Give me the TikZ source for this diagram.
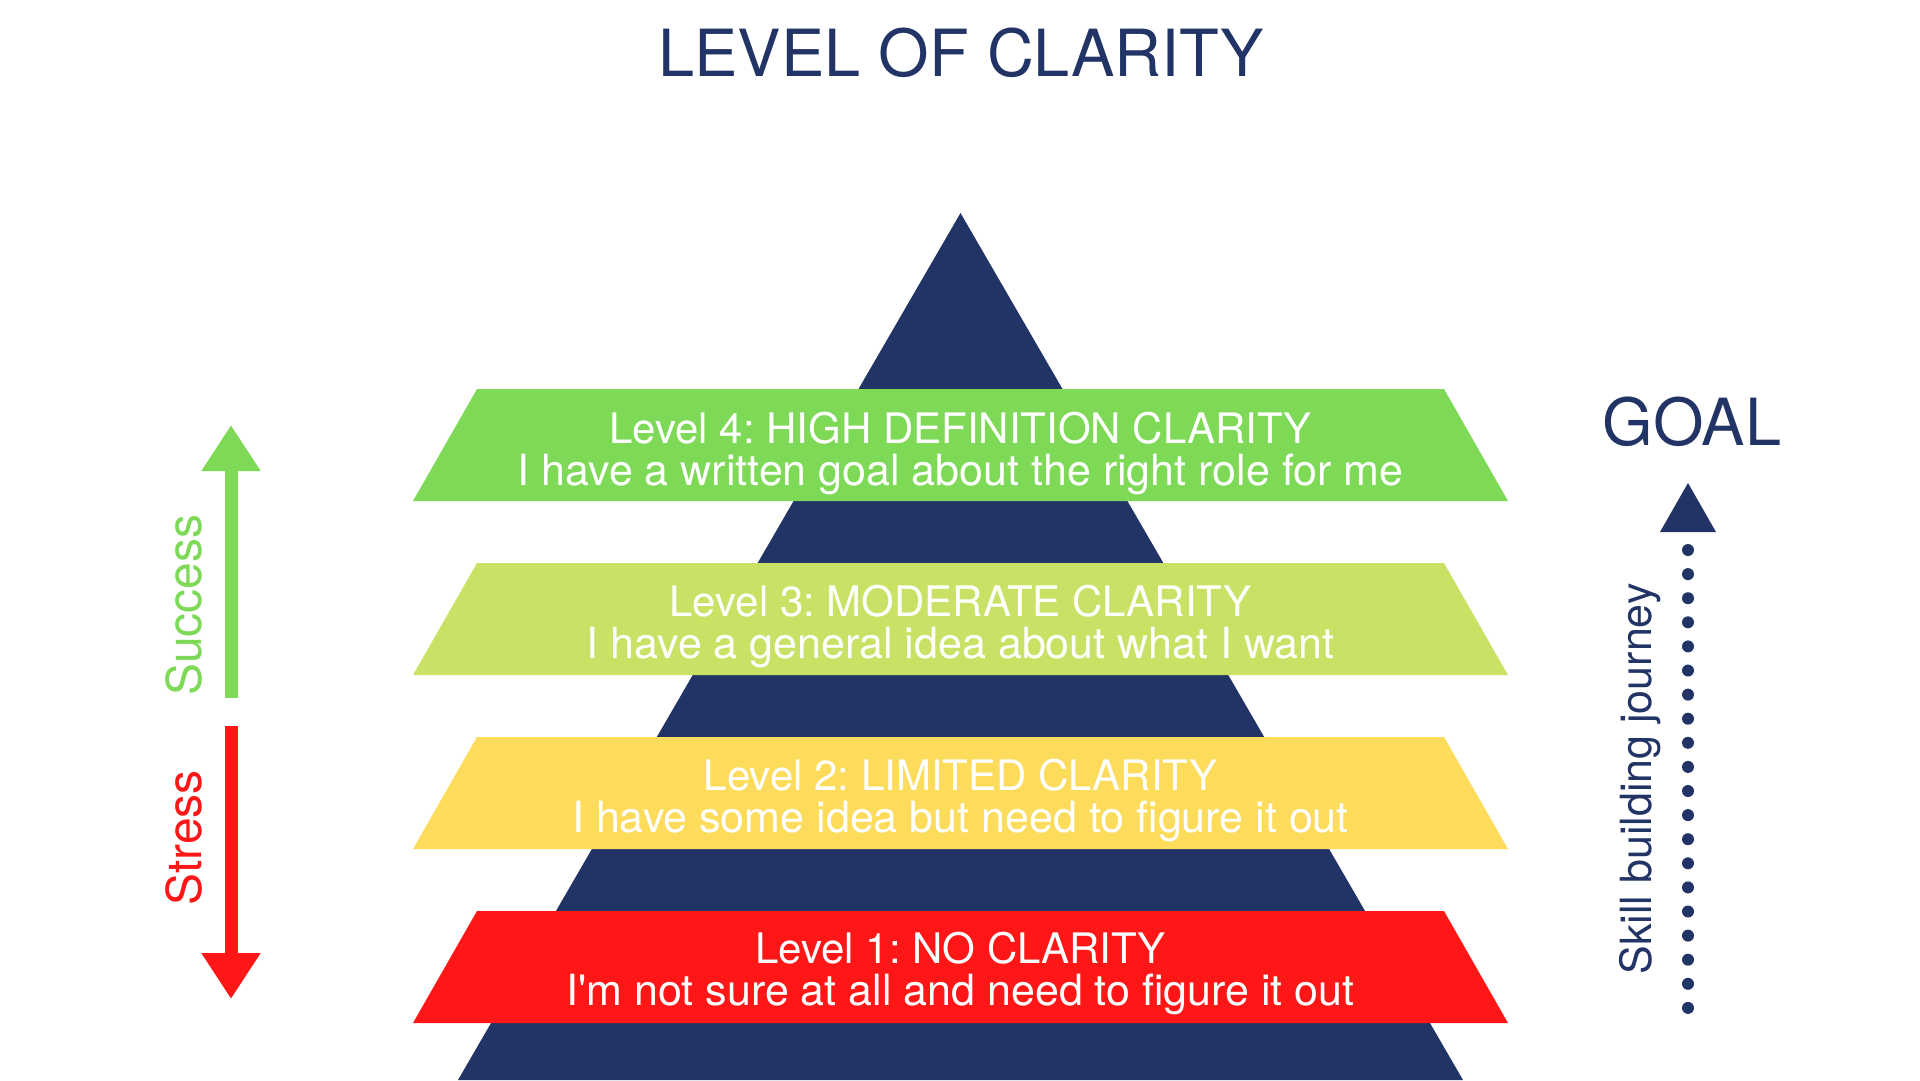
\documentclass[tikz,border=0pt]{standalone}
\usepackage{fontspec}
\setmainfont{TeX Gyre Heros}
\usetikzlibrary{arrows.meta}
\definecolor{navy}{RGB}{34,52,102}
\definecolor{lvgreen}{RGB}{126,217,87}
\definecolor{lvlime}{RGB}{201,226,101}
\definecolor{lvyellow}{RGB}{253,220,92}
\definecolor{lvred}{RGB}{255,22,22}
\tikzset{
  band/.style={fill=#1, draw=none},
  bandtext/.style={text=white, anchor=base, inner sep=0pt, font=\fontsize{43}{43}\selectfont\frenchspacing},
  bandhead/.style={bandtext, font=\fontsize{42}{42}\selectfont\frenchspacing},
  sidetext/.style={text=#1, rotate=90, inner sep=0pt, font=\fontsize{48}{48}\selectfont},
  bigtext/.style={text=navy, anchor=base, inner sep=0pt, font=\fontsize{65}{65}\selectfont},
  fatarrow/.style={draw=#1, line width=13pt, line cap=butt, -{Triangle[width=56pt,length=46pt,fill=#1]}},
}
\begin{document}
\begin{tikzpicture}[x=1pt,y=-1pt]
\useasboundingbox (0,0) rectangle (1920,1080);
\fill[white] (0,0) rectangle (1920,1080);
% title
\node[bigtext] (title) at (961,76) {LEVEL OF CLARITY};
% pyramid
\fill[navy] (960.5,213) -- (1463,1080) -- (458,1080) -- cycle;
% bands
\fill[band=lvgreen] (477,389) -- (1444,389) -- (1508,501) -- (413,501) -- cycle;
\node[bandhead] (l4a) at (960.5,443) {Level 4: HIGH DEFINITION CLARITY};
\node[bandtext] (l4b) at (960.5,485.5) {I have a written goal about the right role for me};
\fill[band=lvlime] (477,563) -- (1444,563) -- (1508,675) -- (413,675) -- cycle;
\node[bandhead] (l3a) at (960.5,616) {Level 3: MODERATE CLARITY};
\node[bandtext] (l3b) at (960.5,658.5) {I have a general idea about what I want};
\fill[band=lvyellow] (477,737) -- (1444,737) -- (1508,849) -- (413,849) -- cycle;
\node[bandhead] (l2a) at (960.5,790) {Level 2: LIMITED CLARITY};
\node[bandtext] (l2b) at (960.5,832.5) {I have some idea but need to figure it out};
\fill[band=lvred] (477,911) -- (1444,911) -- (1508,1023) -- (413,1023) -- cycle;
\node[bandhead] (l1a) at (960.5,963) {Level 1: NO CLARITY};
\node[bandtext] (l1b) at (960.5,1005) {I\textquotesingle m not sure at all and need to figure it out};
% left arrows
\coordinate (sBot) at (231,698);
\coordinate (sTop) at (231,425);
\coordinate (rTop) at (231,726);
\coordinate (rBot) at (231,999);
\draw[fatarrow=lvgreen] (sBot) -- (sTop);
\draw[fatarrow=lvred] (rTop) -- (rBot);
\node[sidetext=lvgreen] (success) at (184,605) {Success};
\node[sidetext=lvred] (stress) at (184,838) {Stress};
% right side
\node[bigtext] (goal) at (1692,445) {GOAL};
\fill[navy] (1660,532) -- (1716,532) -- (1688,483) -- cycle;
\foreach \i in {0,...,19} {
  \fill[navy] (1688,550+\i*24.1) circle (6);
}
\node[text=navy, rotate=90, inner sep=0pt, font=\fontsize{43}{43}\selectfont] (skill) at (1640,779) {Skill building journey};
\end{tikzpicture}
\end{document}
